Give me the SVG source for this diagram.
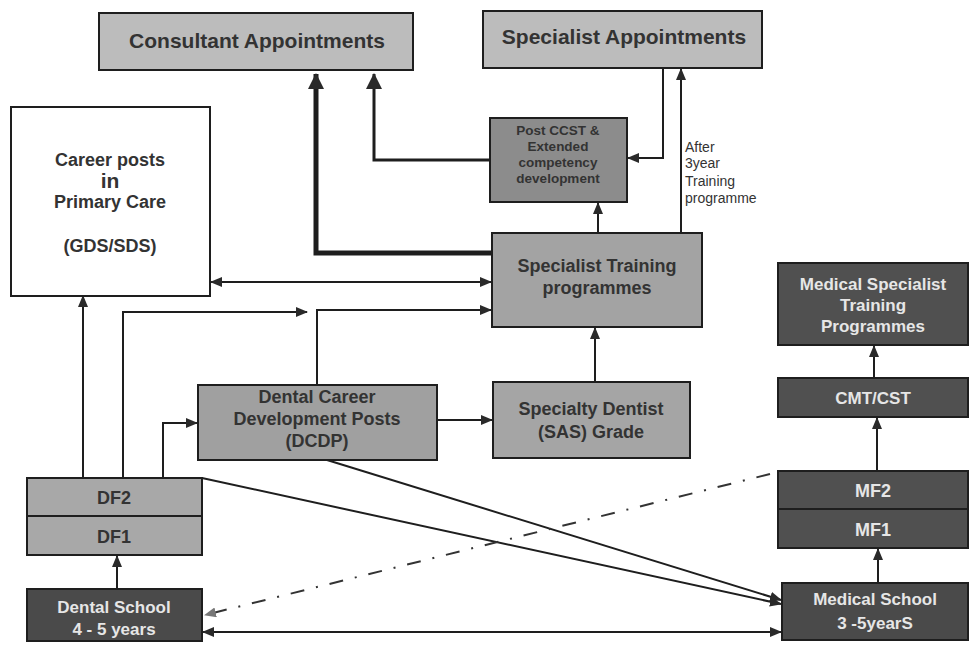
<svg xmlns="http://www.w3.org/2000/svg" width="970" height="645" viewBox="0 0 970 645">
<defs>
<style>
.box{stroke:#1e1e1e;stroke-width:2}
.lt{font-family:"Liberation Sans",Arial,sans-serif;font-weight:bold;fill:#333;text-anchor:middle}
.dk{font-family:"Liberation Sans",Arial,sans-serif;font-weight:bold;fill:#e6e6e6;text-anchor:middle}
.c{fill:none;stroke:#1e1e1e;stroke-width:2}
.rg{font-family:"Liberation Sans",Arial,sans-serif;font-size:14px;fill:#333}
</style>
<marker id="ah" markerUnits="userSpaceOnUse" markerWidth="12" markerHeight="10" refX="11" refY="5" orient="auto-start-reverse"><path d="M0,0 L12,5 L0,10 z" fill="#2a2a2a"/></marker>
<marker id="ahb" markerUnits="userSpaceOnUse" markerWidth="16" markerHeight="16" refX="15" refY="8" orient="auto"><path d="M0,0 L16,8 L0,16 z" fill="#2a2a2a"/></marker>
<marker id="ahg" markerUnits="userSpaceOnUse" markerWidth="12" markerHeight="10" refX="11" refY="5" orient="auto"><path d="M0,0 L12,5 L0,10 z" fill="#777"/></marker>
</defs>
<rect width="970" height="645" fill="#fff"/>

<g id="connectors">
<path class="c" d="M492,253 H316 V74" style="stroke-width:5" marker-end="url(#ahb)"/>
<path class="c" d="M490,160 H374 V74" style="stroke-width:3" marker-end="url(#ahb)"/>
<path class="c" d="M663,68 V158 H628" marker-end="url(#ah)"/>
<path class="c" d="M681,233 V69" marker-end="url(#ah)"/>
<path class="c" d="M598,233 V203" marker-end="url(#ah)"/>
<path class="c" d="M211,282 H491" marker-start="url(#ah)" marker-end="url(#ah)"/>
<path class="c" d="M83,478 V296" marker-end="url(#ah)"/>
<path class="c" d="M123,478 V312 H307" marker-end="url(#ah)"/>
<path class="c" d="M317,385 V310 H491" marker-end="url(#ah)"/>
<path class="c" d="M163,478 V423 H197" marker-end="url(#ah)"/>
<path class="c" d="M437,420 H492" marker-end="url(#ah)"/>
<path class="c" d="M595,382 V328" marker-end="url(#ah)"/>
<path class="c" d="M117,589 V556" marker-end="url(#ah)"/>
<path class="c" d="M202,478 L781,604" marker-end="url(#ah)"/>
<path class="c" d="M327,460 L781,600" marker-end="url(#ah)"/>
<path d="M770,474 L205,615" fill="none" stroke="#333" stroke-width="2" stroke-dasharray="14,12,2,12" marker-end="url(#ahg)"/>
<path class="c" d="M203,632 H781" marker-start="url(#ah)" marker-end="url(#ah)"/>
<path class="c" d="M878,583 V549" marker-end="url(#ah)"/>
<path class="c" d="M877,471 V418" marker-end="url(#ah)"/>
<path class="c" d="M874,378 V346" marker-end="url(#ah)"/>
</g>

<g id="consultant">
<rect class="box" x="99" y="13" width="314" height="57" fill="#bcbcbc"/>
<text class="lt" x="257" y="48" font-size="21">Consultant Appointments</text>
</g>
<g id="specialist-appointments">
<rect class="box" x="483" y="11" width="279" height="57" fill="#bcbcbc"/>
<text class="lt" x="624" y="44" font-size="21">Specialist Appointments</text>
</g>
<g id="post-ccst">
<rect class="box" x="490" y="118" width="137" height="84" fill="#8c8c8c"/>
<text class="lt" x="558" y="135" font-size="13.5">Post CCST &amp;</text>
<text class="lt" x="558" y="151" font-size="13.5">Extended</text>
<text class="lt" x="558" y="167" font-size="13.5">competency</text>
<text class="lt" x="558" y="183" font-size="13.5">development</text>
</g>
<g id="after-label">
<text class="rg" x="685" y="152">After</text>
<text class="rg" x="685" y="168">3year</text>
<text class="rg" x="685" y="186">Training</text>
<text class="rg" x="685" y="203">programme</text>
</g>
<g id="career-posts">
<rect class="box" x="11" y="107" width="199" height="189" fill="#fff"/>
<text class="lt" x="110" y="166" font-size="18" fill="#111">Career posts</text>
<text class="lt" x="110" y="188" font-size="21" fill="#111">in</text>
<text class="lt" x="110" y="208" font-size="18" fill="#111">Primary Care</text>
<text class="lt" x="110" y="252" font-size="18" fill="#111">(GDS/SDS)</text>
</g>
<g id="specialist-training">
<rect class="box" x="492" y="233" width="210" height="94" fill="#a3a3a3"/>
<text class="lt" x="597" y="272" font-size="18">Specialist Training</text>
<text class="lt" x="597" y="294" font-size="18">programmes</text>
</g>
<g id="dcdp">
<rect class="box" x="198" y="385" width="239" height="75" fill="#a0a0a0"/>
<text class="lt" x="317" y="403" font-size="18">Dental Career</text>
<text class="lt" x="317" y="425" font-size="18">Development Posts</text>
<text class="lt" x="317" y="447" font-size="18">(DCDP)</text>
</g>
<g id="specialty-dentist">
<rect class="box" x="493" y="382" width="197" height="76" fill="#a5a5a5"/>
<text class="lt" x="591" y="415" font-size="18">Specialty Dentist</text>
<text class="lt" x="591" y="438" font-size="18">(SAS) Grade</text>
</g>
<g id="df">
<rect class="box" x="27" y="478" width="175" height="77" fill="#a8a8a8"/>
<line x1="27" y1="516" x2="202" y2="516" stroke="#1e1e1e" stroke-width="2"/>
<text class="lt" x="114" y="504" font-size="18">DF2</text>
<text class="lt" x="114" y="543" font-size="18">DF1</text>
</g>
<g id="dental-school">
<rect class="box" x="27" y="589" width="175" height="52" fill="#4a4a4a"/>
<text class="dk" x="114" y="613" font-size="17">Dental School</text>
<text class="dk" x="114" y="635" font-size="17">4 - 5 years</text>
</g>
<g id="medical-specialist">
<rect class="box" x="778" y="263" width="190" height="82" fill="#505050"/>
<text class="dk" x="873" y="290" font-size="17">Medical Specialist</text>
<text class="dk" x="873" y="311" font-size="17">Training</text>
<text class="dk" x="873" y="332" font-size="17">Programmes</text>
</g>
<g id="cmt-cst">
<rect class="box" x="778" y="378" width="190" height="39" fill="#505050"/>
<text class="dk" x="873" y="404" font-size="17">CMT/CST</text>
</g>
<g id="mf">
<rect class="box" x="778" y="471" width="190" height="77" fill="#505050"/>
<line x1="778" y1="509" x2="968" y2="509" stroke="#1e1e1e" stroke-width="2"/>
<text class="dk" x="873" y="497" font-size="18">MF2</text>
<text class="dk" x="873" y="536" font-size="18">MF1</text>
</g>
<g id="medical-school">
<rect class="box" x="782" y="583" width="186" height="57" fill="#4a4a4a"/>
<text class="dk" x="875" y="605" font-size="17">Medical School</text>
<text class="dk" x="875" y="629" font-size="17">3 -5yearS</text>
</g>
</svg>
